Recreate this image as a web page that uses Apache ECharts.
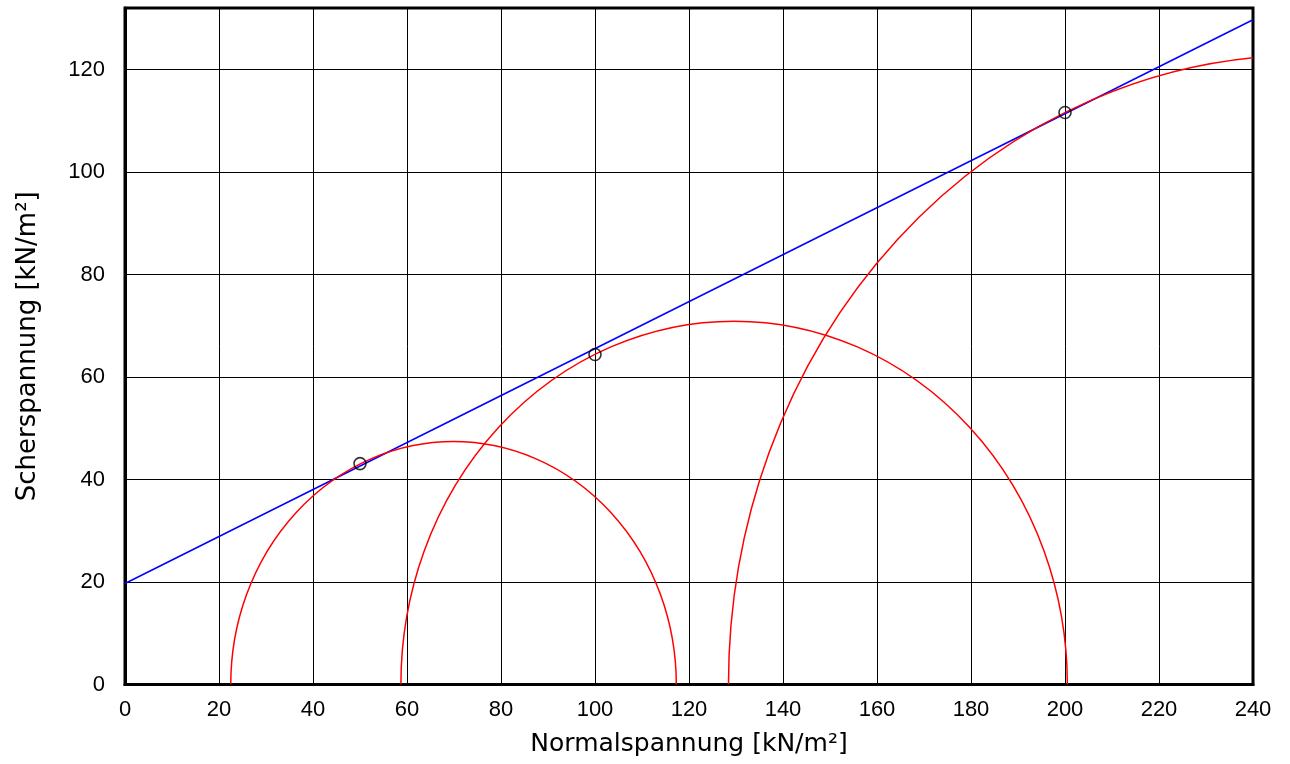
<!DOCTYPE html>
<html>
<head>
<meta charset="utf-8">
<script src="https://cdn.jsdelivr.net/npm/echarts@6/dist/echarts.min.js"></script>
<style>
  html, body { margin: 0; padding: 0; background: #fff; }
  #chart { width: 1290px; height: 764px; }
</style>
</head>
<body>
<div id="chart"></div>
<script>
// Mohr circles of the three triaxial tests: minor / major principal stress [kN/m²]
const sigma3 = [22.5, 58.7, 128.4];
const sigma1 = [117.3, 200.5, 374.0];

// Tangent points of the failure envelope on each circle
const pointX = [50, 100, 200];
const pointY = [43.1, 64.4, 111.6];

// Mohr–Coulomb failure envelope end points
const envelopeX = [0, 240];
const envelopeY = [19.7, 129.7];

// Axis ranges
const xRange = [0, 240];
const yRange = [0, 132];
const tickStep = 20;

const circleData = sigma3.map((s3, i) => [s3, sigma1[i]]);
const pointData = pointX.map((x, i) => [x, pointY[i]]);
const envelopeData = envelopeX.map((x, i) => [x, envelopeY[i]]);

const tickFont = { fontFamily: '"Liberation Sans", Arial, sans-serif', fontSize: 22, color: '#000' };
const nameFont = { fontFamily: '"DejaVu Sans", sans-serif', fontSize: 25, color: '#000' };

const chart = echarts.init(document.getElementById('chart'), null, { renderer: 'canvas' });

chart.setOption({
  animation: false,
  backgroundColor: '#fff',
  grid: {
    left: 125, right: 37, top: 8, bottom: 79.5,
    containLabel: false,
    outerBoundsMode: 'none',
    show: true,
    borderColor: '#000',
    borderWidth: 3,
    backgroundColor: 'transparent'
  },
  xAxis: {
    type: 'value',
    min: xRange[0], max: xRange[1], interval: tickStep,
    name: 'Normalspannung [kN/m²]',
    nameLocation: 'middle',
    nameGap: 47,
    nameTextStyle: nameFont,
    axisLine: { show: true, onZero: false, lineStyle: { color: '#000', width: 3 } },
    axisTick: { show: false },
    axisLabel: Object.assign({ margin: 14 }, tickFont),
    splitLine: { show: true, lineStyle: { color: '#000', width: 1 } }
  },
  yAxis: {
    type: 'value',
    min: yRange[0], max: yRange[1], interval: tickStep,
    name: 'Scherspannung [kN/m²]',
    nameLocation: 'middle',
    nameGap: 84,
    nameTextStyle: Object.assign({}, nameFont, { fontSize: 26 }),
    axisLine: { show: true, onZero: false, lineStyle: { color: '#000', width: 3 } },
    axisTick: { show: false },
    axisLabel: Object.assign({
      margin: 20,
      showMaxLabel: false,
      formatter: v => (v % tickStep === 0 ? String(v) : '')
    }, tickFont),
    splitLine: { show: true, lineStyle: { color: '#000', width: 1 } }
  },
  series: [
    {
      name: 'Bruchgerade',
      type: 'line',
      data: envelopeData,
      symbol: 'none',
      lineStyle: { color: '#0000ff', width: 1.5 },
      z: 2
    },
    {
      name: 'Mohrsche Kreise',
      type: 'custom',
      clip: true,
      data: circleData,
      encode: { x: [0, 1] },
      renderItem: function (params, api) {
        const s3 = api.value(0);
        const s1 = api.value(1);
        const r = (s1 - s3) / 2;
        const pStart = api.coord([s3, 0]);
        const pEnd = api.coord([s1, 0]);
        const rad = api.size([r, r]);
        return {
          type: 'path',
          shape: {
            pathData: 'M' + pStart[0] + ' ' + pStart[1] +
              ' A' + rad[0] + ' ' + rad[1] + ' 0 0 1 ' + pEnd[0] + ' ' + pEnd[1]
          },
          style: { fill: 'none', stroke: '#ff0000', lineWidth: 1.5 }
        };
      },
      z: 3
    },
    {
      name: 'Messpunkte',
      type: 'scatter',
      data: pointData,
      symbol: 'circle',
      symbolSize: 12,
      itemStyle: { color: 'rgba(0,0,0,0)', borderColor: '#000', borderWidth: 1.6 },
      z: 4
    }
  ]
});
</script>
</body>
</html>
